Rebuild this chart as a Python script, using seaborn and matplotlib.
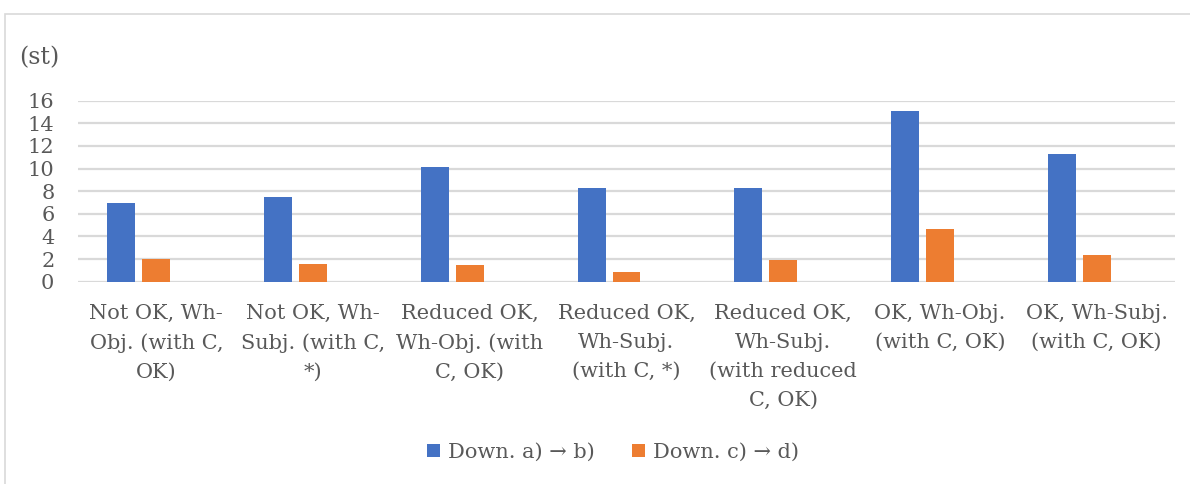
import pandas as pd
import seaborn as sns
import matplotlib.pyplot as plt
from matplotlib.patches import Patch, Rectangle

# Chart values
categories = [
    "Not OK, Wh-\nObj. (with C,\nOK)",
    "Not OK, Wh-\nSubj. (with C,\n*)",
    "Reduced OK,\nWh-Obj. (with\nC, OK)",
    "Reduced OK,\nWh-Subj.\n(with C, *)",
    "Reduced OK,\nWh-Subj.\n(with reduced\nC, OK)",
    "OK, Wh-Obj.\n(with C, OK)",
    "OK, Wh-Subj.\n(with C, OK)",
]
down_ab = [7.0, 7.5, 10.1, 8.3, 8.3, 15.1, 11.3]
down_cd = [2.0, 1.6, 1.5, 0.9, 1.9, 4.7, 2.4]
empty_series = [0, 0, 0, 0, 0, 0, 0]  # Excel keeps an empty third series slot
series_names = ["Down. a) \u2192 b)", "Down. c) \u2192 d)", ""]
yticks = [0, 2, 4, 6, 8, 10, 12, 14, 16]

colors = ["#4472C4", "#ED7D31", "#FFFFFF"]
text_color = "#595959"
grid_color = "#D9D9D9"
fs = 15

# Build long table for seaborn
rows = []
for name, vals in zip(series_names, [down_ab, down_cd, empty_series]):
    for cat, v in zip(categories, vals):
        rows.append({"category": cat, "series": name, "value": v})
df = pd.DataFrame(rows)

sns.set_theme(style="white")
plt.rcParams["font.family"] = ["DejaVu Serif"]
plt.rcParams["text.color"] = text_color

fig = plt.figure(figsize=(11.9, 4.84), dpi=100)
ax = fig.add_axes([78 / 1190, 1 - 281.7 / 484, (1175 - 78) / 1190, 181 / 484])

sns.barplot(data=df, x="category", y="value", hue="series",
            hue_order=series_names, order=categories,
            palette=colors, saturation=1, width=0.67, gap=0.2, linewidth=0,
            errorbar=None, ax=ax, legend=False)

ax.set_ylim(0, 16)
ax.set_xlim(-0.5, len(categories) - 0.5)
ax.set_yticks(yticks)
ax.set_yticklabels([str(t) for t in yticks])
ax.yaxis.grid(True, color=grid_color, linewidth=1.6)
ax.set_axisbelow(True)
for s in ax.spines.values():
    s.set_visible(False)
ax.set_xlabel("")
ax.set_ylabel("")
ax.tick_params(axis="y", length=0, pad=17, labelsize=fs, labelcolor=text_color)
ax.tick_params(axis="x", length=0, pad=16, labelsize=fs, labelcolor=text_color)
for lbl in ax.get_xticklabels():
    lbl.set_linespacing(1.66)

# unit label
fig.text(19 / 1190, 1 - 58 / 484, "(st)", fontsize=17, va="center", ha="left",
         color=text_color)

# legend with only the two real series
handles = [Patch(facecolor=colors[0], edgecolor="none"),
           Patch(facecolor=colors[1], edgecolor="none")]
fig.legend(handles, series_names[:2], loc="center", ncol=2,
           bbox_to_anchor=(613 / 1190, 1 - 452 / 484), frameon=False,
           fontsize=fs, handlelength=0.6, handleheight=0.6,
           handletextpad=0.4, columnspacing=1.8, labelcolor=text_color)

# chart area border
fig.patches.append(Rectangle((4.5 / 1190, -0.1), 1.2, 1 - 13.5 / 484 + 0.1,
                             transform=fig.transFigure, fill=False,
                             edgecolor=grid_color, linewidth=1.2))

fig.savefig("out.png", dpi=100)
